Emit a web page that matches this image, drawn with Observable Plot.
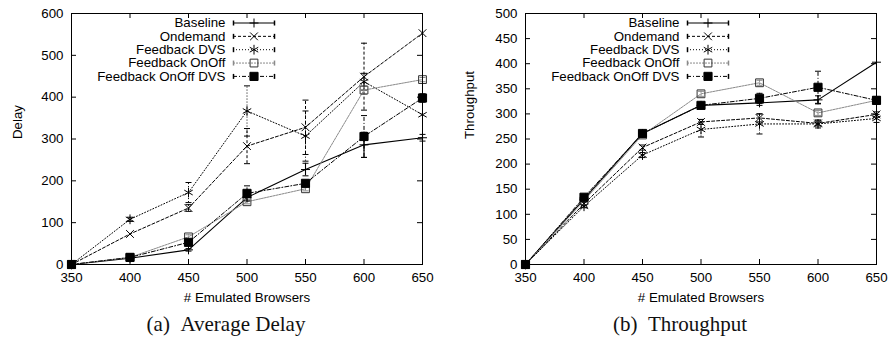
<!DOCTYPE html>
<html><head><meta charset="utf-8">
<script src="https://cdn.jsdelivr.net/npm/d3@7"></script>
<script src="https://cdn.jsdelivr.net/npm/@observablehq/plot@0.6"></script>
<style>
body{margin:0;background:#fff;}
#row{display:flex;width:888px;height:339px;}
.panel{width:444px;height:339px;position:relative;}
.cap{font-family:"Liberation Serif","Times New Roman",serif;font-size:21px;line-height:20px;position:absolute;top:314px;white-space:nowrap;transform:translateX(-50%);color:#111;}
</style></head>
<body><div id="row"><div class="panel" id="pa"></div><div class="panel" id="pb"></div></div>
<script>
// ---- data ----
const browsers = [350, 400, 450, 500, 550, 600, 650];
const seriesNames = ["Baseline", "Ondemand", "Feedback DVS", "Feedback OnOff", "Feedback OnOff DVS"];

const delayBaseline         = [0, 15, 35, 160, 227, 286, 303];
const delayOndemand         = [0, 73, 135, 283, 328, 449, 553];
const delayFeedbackDVS      = [0, 108, 172, 367, 307, 437, 358];
const delayFeedbackOnOff    = [0, 17, 66, 150, 181, 417, 442];
const delayFeedbackOnOffDVS = [0, 17, 53, 170, 194, 306, 398];

const delayErrBaseline         = [0, 0, 3, 0, 15, 30, 8];
const delayErrOndemand         = [0, 0, 8, 42, 65, 80, 0];
const delayErrFeedbackDVS      = [0, 5, 24, 60, 60, 20, 0];
const delayErrFeedbackOnOff    = [0, 0, 5, 5, 5, 10, 5];
const delayErrFeedbackOnOffDVS = [0, 0, 5, 18, 5, 50, 10];

const tputBaseline         = [0, 130, 261, 317, 322, 328, 403];
const tputOndemand         = [0, 121, 233, 284, 292, 281, 299];
const tputFeedbackDVS      = [0, 116, 218, 269, 280, 280, 291];
const tputFeedbackOnOff    = [0, 127, 258, 340, 362, 302, 327];
const tputFeedbackOnOffDVS = [0, 134, 261, 317, 331, 353, 327];

const tputErrBaseline         = [0, 3, 5, 4, 5, 8, 0];
const tputErrOndemand         = [0, 3, 5, 5, 8, 5, 5];
const tputErrFeedbackDVS      = [0, 3, 5, 15, 20, 8, 8];
const tputErrFeedbackOnOff    = [0, 3, 5, 5, 5, 5, 5];
const tputErrFeedbackOnOffDVS = [0, 3, 5, 5, 10, 32, 5];

const xTicks = [350, 400, 450, 500, 550, 600, 650];
const delayTicks = [0, 100, 200, 300, 400, 500, 600];
const tputTicks = [0, 50, 100, 150, 200, 250, 300, 350, 400, 450, 500];

// ---- styles ----
const styles = [
  {stroke: "#000", dash: null, width: 1.1, symbol: "plus", r: 3.0, fill: "none", mstroke: "#000"},
  {stroke: "#000", dash: "3,2", width: 1, symbol: "times", r: 3.6, fill: "none", mstroke: "#000"},
  {stroke: "#000", dash: "1,2", width: 1, symbol: "asterisk", r: 4.6, fill: "none", mstroke: "#000"},
  {stroke: "#8a8a8a", dash: "2,1", width: 1, symbol: "square", r: 4.4, fill: "none", mstroke: "#333"},
  {stroke: "#000", dash: "4,2,1,2", width: 1, symbol: "square", r: 4.6, fill: "#000", mstroke: "#000"}
];

const hCap = {draw(ctx) { ctx.moveTo(-3, 0); ctx.lineTo(3, 0); }};
const vCap = {draw(ctx) { ctx.moveTo(0, -2.5); ctx.lineTo(0, 2.5); }};

function buildRows(valueArrays, errArrays) {
  const rows = [];
  seriesNames.forEach((s, i) => {
    browsers.forEach((b, j) => rows.push({series: s, si: i, x: b, y: valueArrays[i][j], e: errArrays[i][j]}));
  });
  return rows;
}

function panel({rows, yDomain, yTicks, yLabel, marginLeft, marginRight, labelX}) {
  const W = 444, H = 305, mt = 13, mb = 41;
  const innerW = W - marginLeft - marginRight, innerH = H - mt - mb;
  const marks = [];
  // inward ticks on all four sides
  marks.push(Plot.tickY(yTicks, {y: d => d, insetRight: innerW - 5, stroke: "#000"}));
  marks.push(Plot.tickY(yTicks, {y: d => d, insetLeft: innerW - 5, stroke: "#000"}));
  marks.push(Plot.tickX(xTicks, {x: d => d, insetTop: innerH - 5, stroke: "#000"}));
  marks.push(Plot.tickX(xTicks, {x: d => d, insetBottom: innerH - 5, stroke: "#000"}));
  seriesNames.forEach((s, i) => {
    const st = styles[i];
    const data = rows.filter(d => d.si === i);
    const err = data.filter(d => d.e > 0);
    const common = {stroke: st.stroke, strokeWidth: st.width, strokeDasharray: st.dash};
    marks.push(Plot.ruleX(err, {x: "x", y1: d => d.y - d.e, y2: d => d.y + d.e, ...common}));
    marks.push(Plot.dot(err, {x: "x", y: d => d.y + d.e, symbol: hCap, stroke: st.stroke, fill: "none", strokeWidth: 1}));
    marks.push(Plot.dot(err, {x: "x", y: d => d.y - d.e, symbol: hCap, stroke: st.stroke, fill: "none", strokeWidth: 1}));
    marks.push(Plot.line(data, {x: "x", y: "y", ...common}));
  });
  seriesNames.forEach((s, i) => {
    const st = styles[i];
    const data = rows.filter(d => d.si === i);
    marks.push(Plot.dot(data, {x: "x", y: "y", symbol: st.symbol, r: st.r, fill: st.fill, stroke: st.mstroke, strokeWidth: 1}));
  });
  // legend (inside the frame, top-left)
  const lx1 = 162, lx2 = 203, lTextEnd = 154, row0 = 9.5, step = 13.35;
  seriesNames.forEach((s, i) => {
    const st = styles[i];
    const ry = row0 + step * i;
    marks.push(Plot.text([s], {frameAnchor: "top-left", dx: lTextEnd, dy: ry, textAnchor: "end", lineAnchor: "middle", fill: "#000"}));
    marks.push(Plot.ruleY([s], {y: null, insetLeft: lx1, insetRight: innerW - lx2, dy: ry - innerH / 2, stroke: st.stroke, strokeWidth: st.width, strokeDasharray: st.dash}));
    marks.push(Plot.dot([s], {frameAnchor: "top-left", dx: lx1, dy: ry, symbol: vCap, stroke: st.stroke, fill: "none"}));
    marks.push(Plot.dot([s], {frameAnchor: "top-left", dx: lx2, dy: ry, symbol: vCap, stroke: st.stroke, fill: "none"}));
    marks.push(Plot.dot([s], {frameAnchor: "top-left", dx: (lx1 + lx2) / 2, dy: ry, symbol: st.symbol, r: st.r, fill: st.fill, stroke: st.mstroke, strokeWidth: 1}));
  });
  // axis titles
  marks.push(Plot.text(["# Emulated Browsers"], {frameAnchor: "bottom", dy: 33, lineAnchor: "middle", fill: "#000"}));
  marks.push(Plot.text([yLabel], {frameAnchor: "left", rotate: -90, dx: -(marginLeft - labelX), lineAnchor: "middle", fill: "#000"}));
  marks.push(Plot.frame({stroke: "#000", strokeWidth: 1}));
  return Plot.plot({
    width: W, height: H,
    marginTop: mt, marginBottom: mb, marginLeft, marginRight,
    style: {fontFamily: "'Liberation Sans', Arial, sans-serif", fontSize: "13.3px", color: "#000", background: "#fff"},
    x: {domain: [350, 650], ticks: xTicks, tickSize: 0, tickPadding: 8, label: null, tickFormat: d => String(d)},
    y: {domain: yDomain, ticks: yTicks, tickSize: 0, tickPadding: 8, label: null, tickFormat: d => String(d)},
    marks
  });
}

const delayRows = buildRows(
  [delayBaseline, delayOndemand, delayFeedbackDVS, delayFeedbackOnOff, delayFeedbackOnOffDVS],
  [delayErrBaseline, delayErrOndemand, delayErrFeedbackDVS, delayErrFeedbackOnOff, delayErrFeedbackOnOffDVS]);
const tputRows = buildRows(
  [tputBaseline, tputOndemand, tputFeedbackDVS, tputFeedbackOnOff, tputFeedbackOnOffDVS],
  [tputErrBaseline, tputErrOndemand, tputErrFeedbackDVS, tputErrFeedbackOnOff, tputErrFeedbackOnOffDVS]);

const pa = document.getElementById("pa");
const pb = document.getElementById("pb");
pa.appendChild(panel({rows: delayRows, yDomain: [0, 600], yTicks: delayTicks, yLabel: "Delay", marginLeft: 71, marginRight: 22, labelX: 17}));
pb.appendChild(panel({rows: tputRows, yDomain: [0, 500], yTicks: tputTicks, yLabel: "Throughput", marginLeft: 81, marginRight: 12, labelX: 25}));

const ca = document.createElement("div"); ca.className = "cap"; ca.style.left = "226px"; ca.textContent = "(a)\u2002Average Delay"; pa.appendChild(ca);
const cb = document.createElement("div"); cb.className = "cap"; cb.style.left = "236px"; cb.textContent = "(b)\u2002Throughput"; pb.appendChild(cb);
</script>
</body></html>
